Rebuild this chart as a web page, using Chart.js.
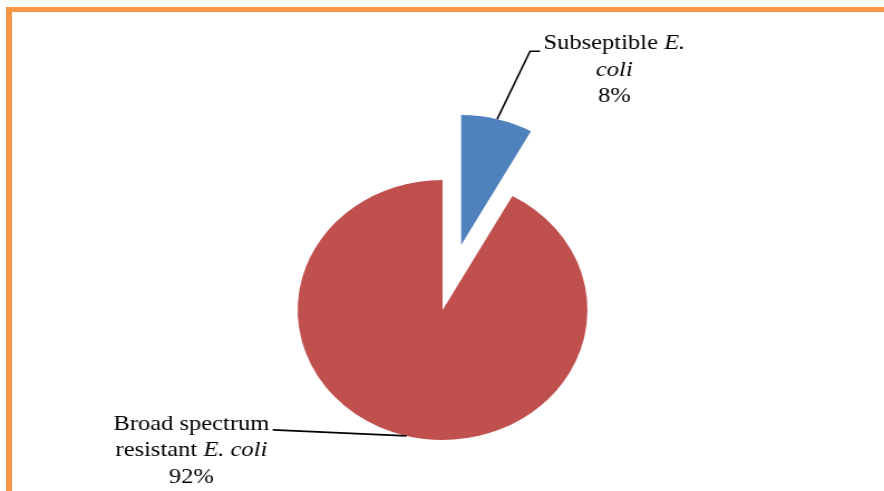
<!DOCTYPE html>
<html>
<head>
<meta charset="utf-8">
<script src="https://cdn.jsdelivr.net/npm/chart.js@4.4.1/dist/chart.umd.min.js"></script>
<style>
  html, body { margin: 0; padding: 0; background: #fff; }
  .wrap { position: relative; width: 884px; height: 491px; overflow: hidden; background: #fff; }
  .frame { position: absolute; left: 6px; top: 7px; right: -10px; bottom: -10px;
           border-top: 5px solid #f79646; border-left: 6px solid #f79646; }
</style>
</head>
<body>
<div class="wrap">
  <div class="frame"></div>
  <!-- drawn narrow and stretched sideways, like the original picture -->
  <canvas id="pie" width="793" height="491"
          style="position:absolute;left:0;top:0;width:884px;height:491px"></canvas>
</div>
<script>
const categories = ['Subseptible E. coli', 'Broad spectrum resistant E. coli'];
const values = [8, 92];
// label lines, *...* = italic
const labelLines = [
  ['Subseptible *E.*', '*coli*'],
  ['Broad spectrum', 'resistant *E. coli*']
];
const colors = ['#4f81bd', '#c0504d'];
// pulled-out distance of each slice, px
const pullOut = [67, 0];

const FONT = "'Liberation Serif', 'Times New Roman', serif";
const total = values.reduce((a, b) => a + b, 0);

function setFont(ctx, italic) {
  ctx.font = (italic ? 'italic ' : '') + '22px ' + FONT;
}

function measureRich(ctx, text) {
  let w = 0;
  text.split('*').forEach((p, i) => {
    setFont(ctx, i % 2);
    w += ctx.measureText(p).width;
  });
  return w;
}

function drawRich(ctx, text, cx, y) {
  let x = cx - measureRich(ctx, text) / 2;
  text.split('*').forEach((p, i) => {
    setFont(ctx, i % 2);
    ctx.fillText(p, x, y);
    x += ctx.measureText(p).width;
  });
}

// draws the slices with the exploded one moved out along its middle angle
const explode = {
  id: 'explode',
  beforeDatasetDraw(chart, args) {
    const ctx = chart.ctx;
    args.meta.data.forEach((arc, i) => {
      const p = arc.getProps(['startAngle', 'endAngle']);
      const mid = (p.startAngle + p.endAngle) / 2;
      ctx.save();
      ctx.translate(Math.cos(mid) * pullOut[i], Math.sin(mid) * pullOut[i]);
      arc.draw(ctx, chart.chartArea);
      ctx.restore();
    });
    return false;
  }
};

const leaderLabels = {
  id: 'leaderLabels',
  afterDatasetsDraw(chart, args, opts) {
    const ctx = chart.ctx;
    const arcs = chart.getDatasetMeta(0).data;
    ctx.save();
    ctx.fillStyle = '#000';
    ctx.strokeStyle = '#000';
    ctx.lineWidth = 1.6;
    ctx.textBaseline = 'alphabetic';
    arcs.forEach((arc, i) => {
      const p = arc.getProps(['x', 'y', 'startAngle', 'endAngle', 'outerRadius']);
      const mid = (p.startAngle + p.endAngle) / 2;
      const r = p.outerRadius + pullOut[i];
      let px = p.x + Math.cos(mid) * r;
      let py = p.y + Math.sin(mid) * r;
      const L = opts.leaders[i];
      ctx.beginPath();
      ctx.moveTo(px, py);
      L.path.forEach(d => { px += d[0]; py += d[1]; ctx.lineTo(px, py); });
      ctx.stroke();

      const lines = labelLines[i].concat([Math.round(values[i] / total * 100) + '%']);
      const w1 = measureRich(ctx, lines[0]);
      const center = L.side === 'left' ? px + L.gap + w1 / 2 : px - L.gap - w1 / 2;
      lines.forEach((t, k) => drawRich(ctx, t, center, py + L.base + k * 26.5));
    });
    ctx.restore();
  }
};

new Chart(document.getElementById('pie'), {
  type: 'pie',
  data: {
    labels: categories,
    datasets: [{
      data: values,
      backgroundColor: colors,
      borderWidth: 0
    }]
  },
  options: {
    responsive: false,
    animation: false,
    events: [],
    radius: 130,
    layout: { padding: { top: 129, left: 1, right: 0, bottom: 0 } },
    plugins: {
      legend: { display: false },
      tooltip: { enabled: false },
      leaderLabels: {
        leaders: [
          { path: [[29.5, -68], [9, 0]], side: 'left', gap: 3, base: -2 },
          { path: [[-120, -6]], side: 'right', gap: 3, base: 0 }
        ]
      }
    }
  },
  plugins: [explode, leaderLabels]
});
</script>
</body>
</html>
